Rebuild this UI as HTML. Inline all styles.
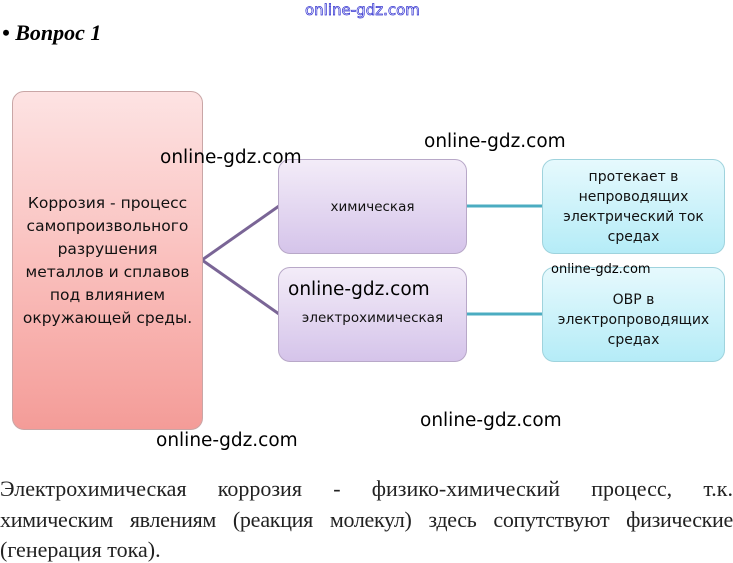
<!DOCTYPE html>
<html><head><meta charset="utf-8"><style>
body{margin:0;width:733px;height:563px;background:#fff;position:relative;overflow:hidden;font-family:"DejaVu Sans",sans-serif}
.a{position:absolute}
.box{position:absolute;border-radius:12px;display:flex;align-items:center;justify-content:center;text-align:center;color:#111;box-sizing:border-box}
.pink{background:linear-gradient(#fde3e3,#f9b9b6 60%,#f49c98);border:1px solid #c9a6a6}
.lav{background:linear-gradient(#f3ecf8,#d5c4ea);border:1px solid #b8a8c8;font-size:13.5px}
.cy{background:linear-gradient(#e6f9fd,#b5ecf7);border:1px solid #9fd3dd;font-size:14px;line-height:20px}
.wm{position:absolute;font-family:"DejaVu Sans",sans-serif;font-size:18.5px;color:#000;white-space:nowrap}
.ln{position:absolute;left:0;width:733px;font-family:"Liberation Serif",serif;font-size:22px;text-align:justify;text-align-last:justify;color:#222;white-space:nowrap}
</style></head><body>
<div class="a" style="left:305px;top:1px;font-family:'DejaVu Sans',sans-serif;font-size:15px;color:#fff;-webkit-text-stroke:0.7px #3030d0">online-gdz.com</div>
<div class="a" style="left:2px;top:20px;font-family:'Liberation Serif',serif;font-size:22px;font-weight:bold;font-style:italic">• Вопрос 1</div>
<svg class="a" style="left:0;top:0" width="733" height="563">
<line x1="202" y1="260" x2="279" y2="206" stroke="#7a6596" stroke-width="3"/>
<line x1="202" y1="260" x2="279" y2="314" stroke="#7a6596" stroke-width="3"/>
<line x1="466" y1="206" x2="543" y2="206" stroke="#4bacc1" stroke-width="3"/>
<line x1="466" y1="314" x2="543" y2="314" stroke="#4bacc1" stroke-width="3"/>
</svg>
<div class="box pink" style="left:12px;top:91px;width:191px;height:339px;font-size:15.5px;line-height:23px">Коррозия - процесс<br>самопроизвольного<br>разрушения<br>металлов и сплавов<br>под влиянием<br>окружающей среды.</div>
<div class="box lav" style="left:278px;top:159px;width:189px;height:95px">химическая</div>
<div class="box lav" style="left:278px;top:267px;width:189px;height:95px;padding-top:6px">электрохимическая</div>
<div class="box cy" style="left:542px;top:159px;width:183px;height:95px">протекает в<br>непроводящих<br>электрический ток<br>средах</div>
<div class="box cy" style="left:542px;top:267px;width:183px;height:95px;padding-top:10px">ОВР в<br>электропроводящих<br>средах</div>
<div class="wm" style="left:160px;top:147px">online-gdz.com</div>
<div class="wm" style="left:424px;top:131px">online-gdz.com</div>
<div class="wm" style="left:288px;top:279px">online-gdz.com</div>
<div class="wm" style="left:156px;top:430px">online-gdz.com</div>
<div class="wm" style="left:420px;top:410px">online-gdz.com</div>
<div class="wm" style="left:551px;top:262px;font-size:13px">online-gdz.com</div>
<div class="ln" style="top:476px">Электрохимическая коррозия - физико-химический процесс, т.к.</div>
<div class="ln" style="top:507px;letter-spacing:-0.3px">химическим явлениям (реакция молекул) здесь сопутствуют физические</div>
<div class="ln" style="top:537px;text-align-last:left">(генерация тока).</div>
</body></html>
